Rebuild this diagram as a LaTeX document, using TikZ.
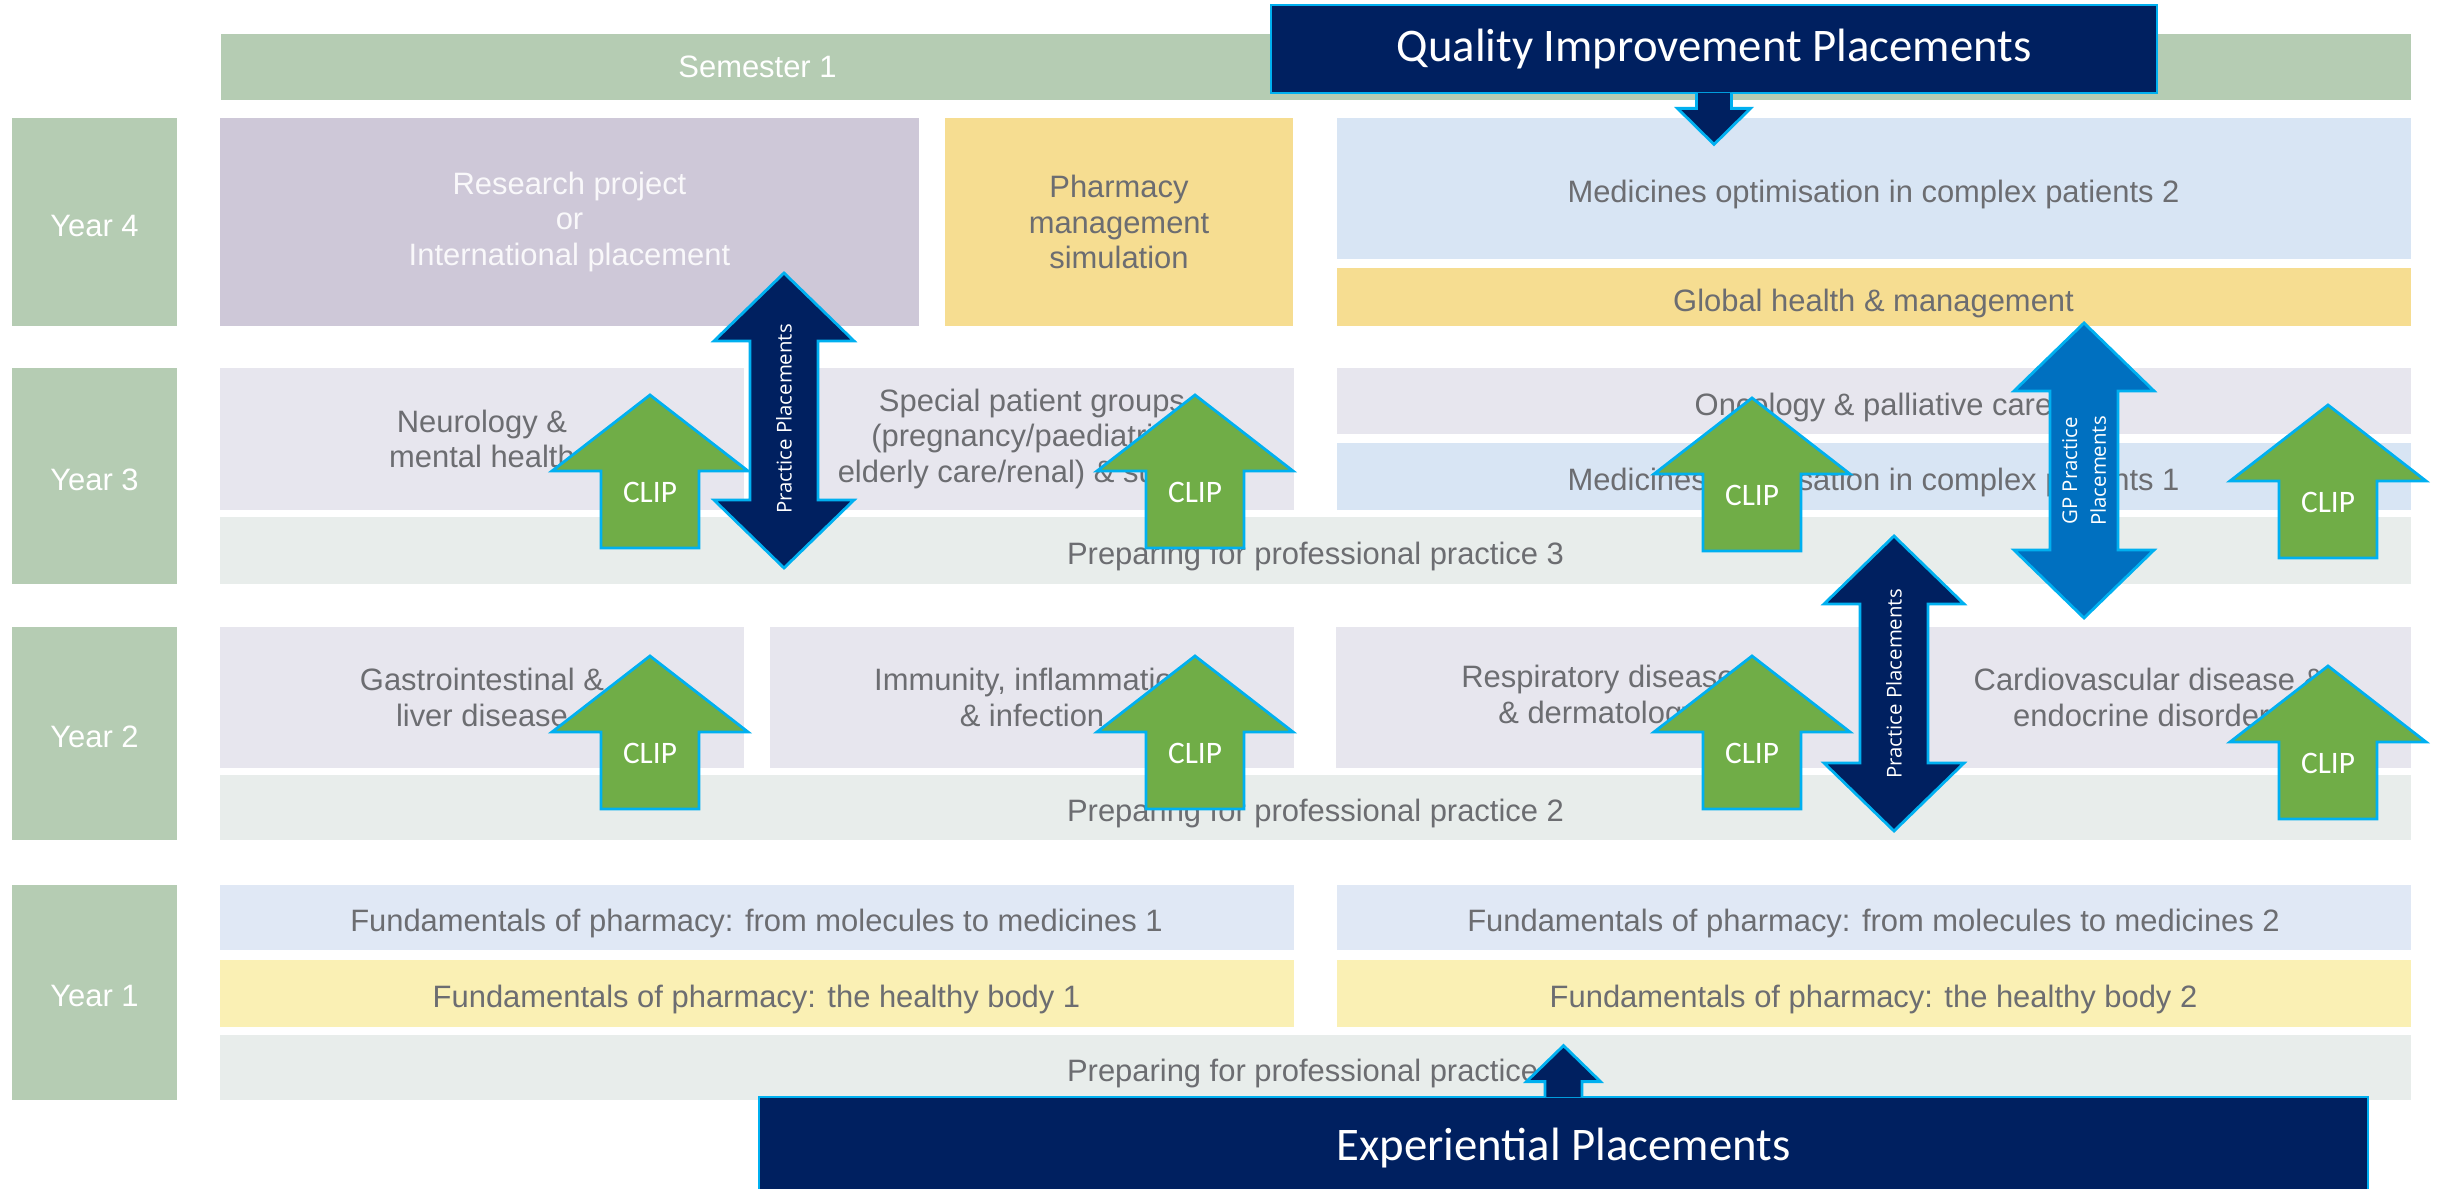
\documentclass[tikz,border=0pt]{standalone}
\usepackage{fontspec}
\setmainfont{Liberation Sans}
\newfontfamily\calfont{Carlito}
\newfontfamily\opfont{Open Sans}
\definecolor{sage_c}{RGB}{181,204,179}
\definecolor{lav_c}{RGB}{206,200,216}
\definecolor{yel_c}{RGB}{246,221,145}
\definecolor{blue_c}{RGB}{216,229,244}
\definecolor{topic_c}{RGB}{231,230,238}
\definecolor{prep_c}{RGB}{232,237,235}
\definecolor{fund_c}{RGB}{224,232,245}
\definecolor{body_c}{RGB}{250,240,180}
\definecolor{txt_c}{RGB}{108,109,113}
\definecolor{navy_c}{RGB}{0,32,96}
\definecolor{gp_c}{RGB}{0,112,192}
\definecolor{green_c}{RGB}{112,173,71}
\definecolor{line_c}{RGB}{0,176,240}
\usetikzlibrary{arrows.meta,
                calc,
                positioning}
\tikzset{
	pics/cliparrow/.style = {code = {
		\filldraw[greenarrow] (0,0) -- (98,76) -- (49,76) -- (49,153)
			-- (-49,153) -- (-49,76) -- (-98,76) -- cycle;
		\node[cliplbl] at (0,97) {CLIP};
	}},
	pics/dblarrow/.style = {code = {
		\filldraw[#1] (0,0) -- (70,68) -- (34,68) -- (34,227) -- (70,227)
			-- (0,295) -- (-70,227) -- (-34,227) -- (-34,68) -- (-70,68) -- cycle;
	}}
}
\begin{document}
\begin{tikzpicture}[
			x=0.1mm, y=-0.1mm,
			box/.style = {rectangle, inner sep=0pt, text=txt_c, align=center,
				font=\fontsize{8.8}{10.2}\selectfont},
			line/.style = {box, text height=0.85em, text depth=0.05em},
			half/.style = {line, minimum width=107.4mm},
			full/.style = {line, minimum width=219.1mm, fill=prep_c},
			topic/.style = {box, minimum width=52.4mm, minimum height=14.15mm, fill=topic_c},
			lbl/.style = {box, fill=sage_c, text=white},
			yr/.style = {lbl, line, text=white, minimum width=16.5mm},
			title/.style = {rectangle, inner sep=0pt, fill=navy_c, draw=line_c,
				line width=0.8pt, text=white, font=\calfont\fontsize{13.3}{16}\selectfont},
			greenarrow/.style = {fill=green_c, draw=line_c, line width=0.8pt},
			navyarrow/.style = {fill=navy_c, draw=line_c, line width=0.8pt},
			gparrow/.style = {fill=gp_c, draw=line_c, line width=0.8pt},
			cliplbl/.style = {text=white, font=\calfont\fontsize{8.9}{10}\selectfont},
			vtext/.style = {rotate=90, text=white, align=center,
				font=\opfont\fontsize{5.8}{8.2}\selectfont},
			]
			\useasboundingbox (0,0) rectangle (2437,1189);
			\clip (0,0) rectangle (2437,1189);
			% semester and years
			\node[lbl, minimum width=107.3mm, minimum height=6.6mm] (sem1) at (757.5,67) {Semester 1};
			\node[lbl, minimum width=111.8mm, minimum height=6.6mm] (sem2) at (1852,67) {};
			\node[yr, minimum height=20.8mm] (y4) at (94.5,222) {Year 4};
			\node[yr, minimum height=21.6mm] (y3) at (94.5,476) {Year 3};
			\node[yr, minimum height=21.3mm] (y2) at (94.5,733.5) {Year 2};
			\node[yr, minimum height=21.5mm] (y1) at (94.5,992.5) {Year 1};
			% year 4
			\node[box, fill=lav_c, text=white!88!lav_c, minimum width=69.9mm, minimum height=20.8mm] (research) at (569.5,222) {Research project\\or\\International placement};
			\node[box, fill=yel_c, minimum width=34.8mm, minimum height=20.8mm] (pharm) at (1119,222) {Pharmacy\\management\\simulation};
			\node[half, fill=blue_c, minimum height=14.1mm] (medopt2) at (1873.5,188.5) {Medicines optimisation in complex patients 2};
			\node[half, fill=yel_c, minimum height=5.8mm] (global) at (1873.5,297) {Global health \& management};
			% year 3
			\node[topic] (neuro) at (482,439) {Neurology \&\\mental health};
			\node[topic] (special) at (1032,439) {Special patient groups\\(pregnancy/paediatrics/\\elderly care/renal) \& surgery};
			\node[half, fill=topic_c, minimum height=6.6mm] (onco) at (1873.5,401) {Oncology \& palliative care};
			\node[half, fill=blue_c, minimum height=6.7mm] (medopt1) at (1873.5,476.5) {Medicines optimisation in complex patients 1};
			\node[full, minimum height=6.7mm] (prep3) at (1315.5,550.5) {Preparing for professional practice 3};
			% year 2
			\node[topic] (gastro) at (482,697.5) {Gastrointestinal \&\\liver disease};
			\node[topic] (immun) at (1032,697.5) {Immunity, inflammation\\\& infection};
			\node[topic] (resp) at (1598,697.5) {Respiratory disease\\\& dermatology};
			\node[topic] (cardio) at (2149,697.5) {Cardiovascular disease \&\\endocrine disorders};
			\node[full, minimum height=6.5mm] (prep2) at (1315.5,807.5) {Preparing for professional practice 2};
			% year 1
			\node[half, fill=fund_c, minimum height=6.5mm] (mol1) at (756.5,917.5) {Fundamentals of pharmacy: from molecules to medicines 1};
			\node[half, fill=fund_c, minimum height=6.5mm] (mol2) at (1873.5,917.5) {Fundamentals of pharmacy: from molecules to medicines 2};
			\node[half, fill=body_c, minimum height=6.7mm] (body1) at (756.5,993.5) {Fundamentals of pharmacy: the healthy body 1};
			\node[half, fill=body_c, minimum height=6.7mm] (body2) at (1873.5,993.5) {Fundamentals of pharmacy: the healthy body 2};
			\node[full, minimum height=6.5mm] (prep1) at (1315.5,1067.5) {Preparing for professional practice 1};
			% CLIP arrows
			\pic at (650,395) {cliparrow};
			\pic at (1195,395) {cliparrow};
			\pic at (1752,398) {cliparrow};
			\pic at (2328,405) {cliparrow};
			\pic at (650,656) {cliparrow};
			\pic at (1195,656) {cliparrow};
			\pic at (1752,656) {cliparrow};
			\pic at (2328,666) {cliparrow};
			% placements
			\pic at (784,273) {dblarrow=navyarrow};
			\pic at (1894,536) {dblarrow=navyarrow};
			\pic at (2084,323) {dblarrow=gparrow};
			\node[vtext] (pp1) at (784,419) {Practice Placements};
			\node[vtext] (pp2) at (1894,684) {Practice Placements};
			\node[vtext] (gp) at (2084,471) {GP Practice\\Placements};
			\node[title, minimum width=88.6mm, minimum height=8.8mm] (qip) at (1714,49) {Quality Improvement Placements};
			\node[title, minimum width=160.9mm, minimum height=10.3mm] (exp) at (1563.5,1148.5) {Experiential Placements};
			\filldraw[navyarrow] ($(qip.south)+(-17.5,-1.5)$) -- ++(0,15.5) -- ++(-19,0)
				-- ++(36.5,36) -- ++(36.5,-36) -- ++(-19,0) -- ++(0,-15.5);
			\filldraw[navyarrow] ($(exp.north)+(-18.5,1.5)$) -- ++(0,-15.5) -- ++(-18.5,0)
				-- ++(37,-36) -- ++(37,36) -- ++(-18.5,0) -- ++(0,15.5);
\end{tikzpicture}
\end{document}
